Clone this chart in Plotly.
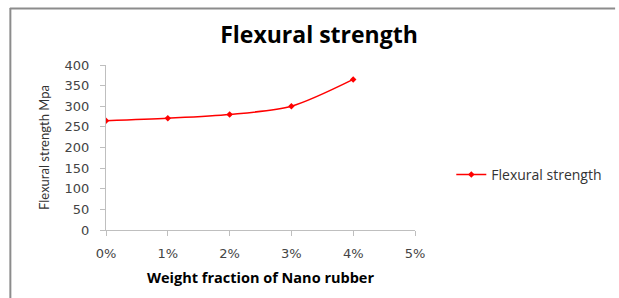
import plotly.graph_objects as go

categories = ["0%", "1%", "2%", "3%", "4%", "5%"]
series_name = "Flexural strength"
values = [265, 271, 280, 300, 365]
y_ticks = [0, 50, 100, 150, 200, 250, 300, 350, 400]

W, H = 619, 298
L, R, T, B = 106, 198, 65, 68
pw, ph = W - L - R, H - T - B

def px(x):
    return (x - L) / pw

def py(y):
    return (H - B - y) / ph

fig = go.Figure()
fig.add_trace(go.Scatter(
    x=list(range(len(values))), y=values, name=series_name,
    mode="lines+markers",
    line=dict(color="#ff0000", width=1.5, shape="spline", smoothing=0.8),
    marker=dict(color="#ff0000", size=5, symbol="diamond"),
))

fig.update_layout(
    width=W, height=H,
    margin=dict(l=L, r=R, t=T, b=B),
    paper_bgcolor="white", plot_bgcolor="white",
    showlegend=True,
    title=dict(text="<b>Flexural strength</b>", xref="container", x=319 / W,
               xanchor="center", yref="container", y=1 - 35 / H,
               yanchor="middle",
               font=dict(family="Open Sans", size=23, color="#000")),
    legend=dict(x=px(458), xanchor="left", y=py(175), yanchor="middle",
                font=dict(family="Open Sans", size=14, color="#333"),
                itemwidth=30, bgcolor="rgba(0,0,0,0)"),
    xaxis=dict(range=[0, len(categories) - 1],
               tickvals=list(range(len(categories))), ticktext=categories,
               showgrid=False, zeroline=False, showline=True,
               linecolor="#bfbfbf", linewidth=1,
               ticks="outside", ticklen=5, tickcolor="#bfbfbf",
               ticklabelstandoff=6,
               tickfont=dict(family="DejaVu Sans", size=13, color="#444"),
               title=dict(text="<b>Weight fraction of Nano rubber</b>",
                          font=dict(family="Open Sans", size=14.5, color="#000"),
                          standoff=13)),
    yaxis=dict(range=[0, 400], tickvals=y_ticks,
               showgrid=False, zeroline=False, showline=True,
               linecolor="#bfbfbf", linewidth=1,
               ticks="outside", ticklen=5, tickcolor="#bfbfbf",
               ticklabelstandoff=8,
               tickfont=dict(family="DejaVu Sans", size=13, color="#444"),
               title=dict(text="Flexural strength Mpa",
                          font=dict(family="Lato", size=13, color="#333"),
                          standoff=12)),
    shapes=[
        dict(type="line", xref="paper", yref="paper",
             x0=px(8), x1=px(625), y0=py(8.5), y1=py(8.5),
             line=dict(color="#8c8c8c", width=2)),
        dict(type="line", xref="paper", yref="paper",
             x0=px(8.5), x1=px(8.5), y0=py(8), y1=py(305),
             line=dict(color="#8c8c8c", width=2)),
    ],
)

fig.write_html(
    "out.html",
    config={"displayModeBar": False},
    post_script="document.body.style.margin='0';document.body.style.overflow='hidden';",
)
